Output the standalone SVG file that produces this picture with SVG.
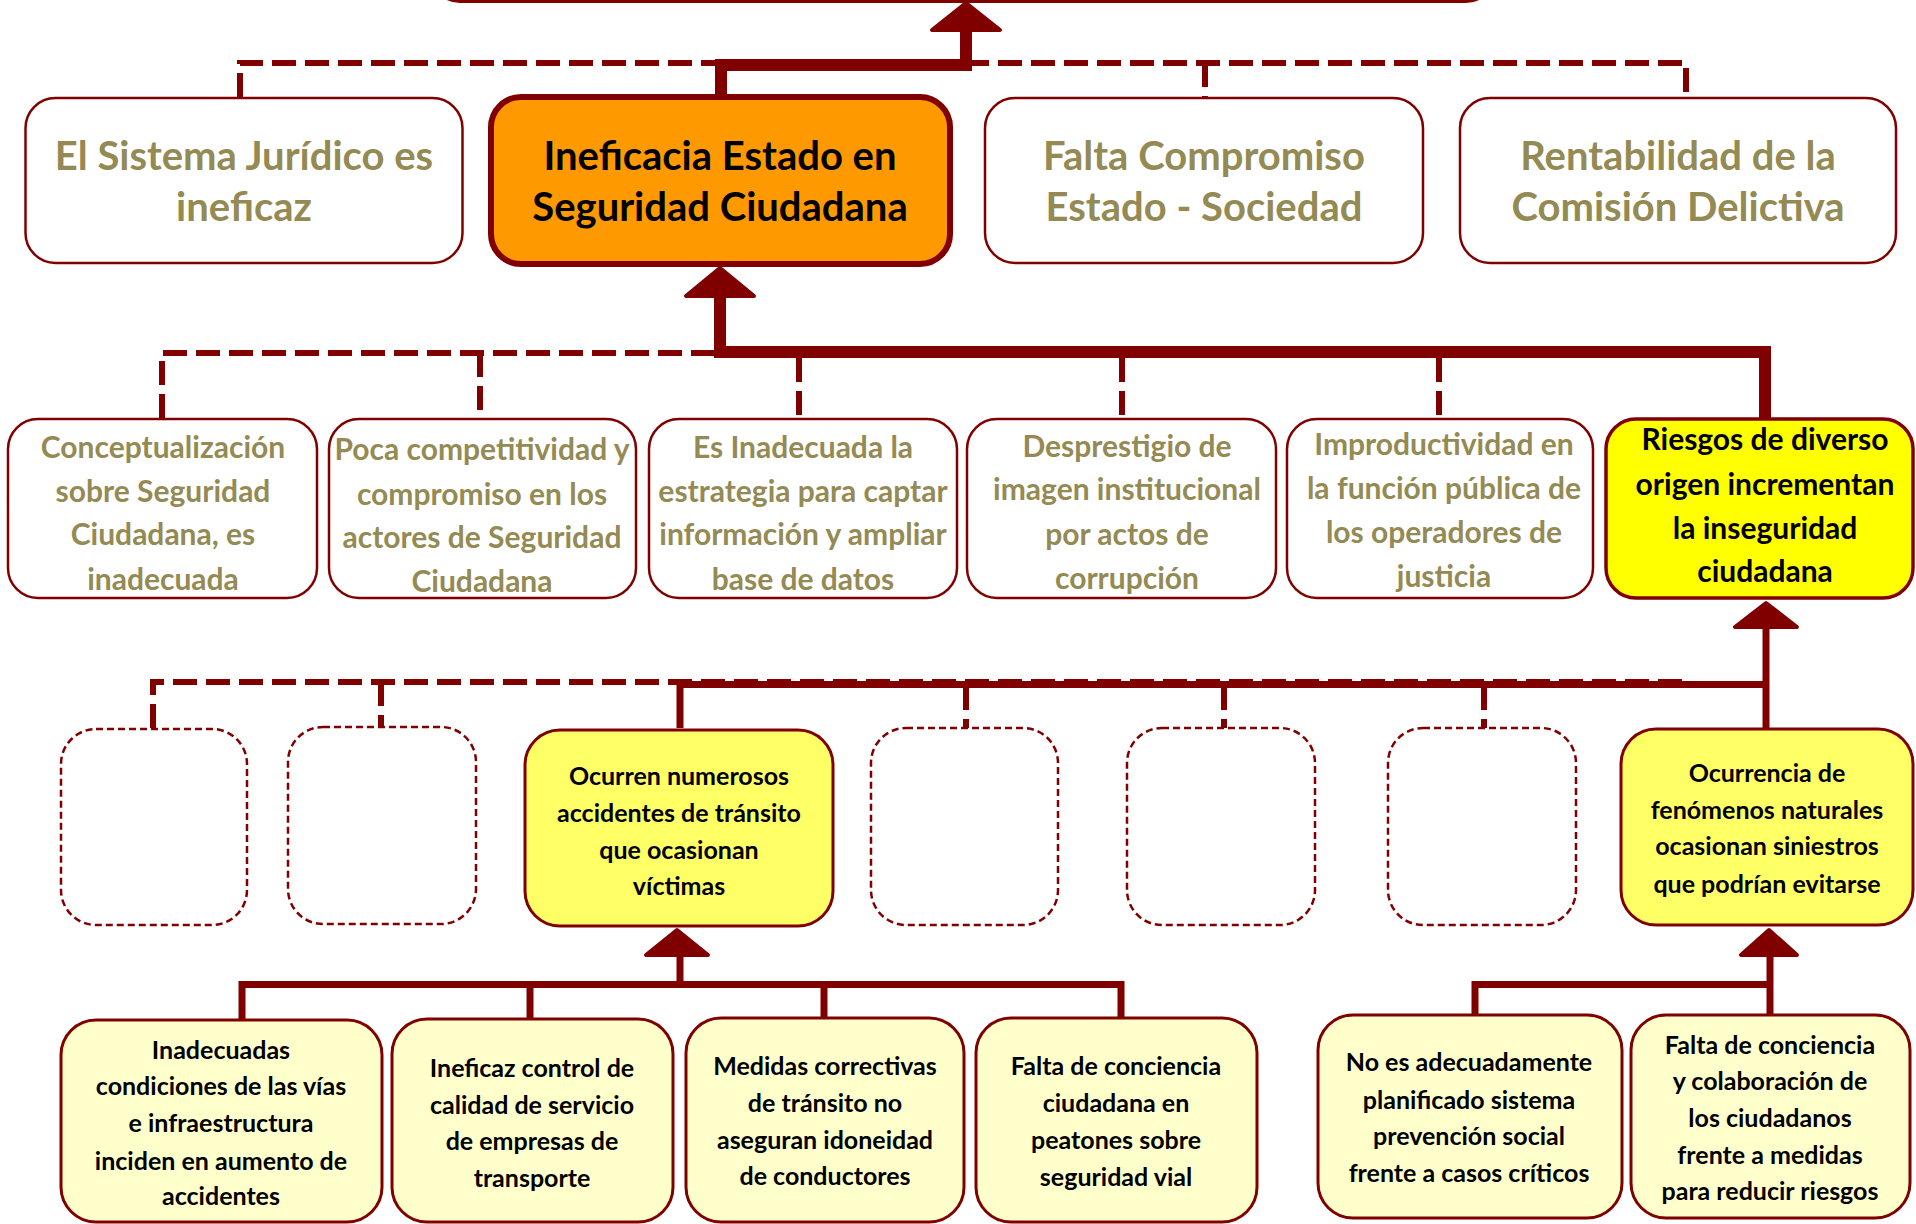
<svg xmlns="http://www.w3.org/2000/svg" width="1916" height="1224" viewBox="0 0 1916 1224">
<style>
text{font-family:Lato,"Liberation Sans",sans-serif;font-weight:bold;text-anchor:middle;transform:translateY(1.5px)}
.t1{font-size:40px}
.t2{font-size:30px}
.t3{font-size:25px}
.ol{fill:#948A54}
.bk{fill:#000}
.box{fill:#fff;stroke:#800000;stroke-width:2.5}
.main{fill:#FF9900;stroke:#800000;stroke-width:6}
.yel{fill:#FFFF00;stroke:#800000;stroke-width:3.5}
.ly{fill:#FFFF66;stroke:#800000;stroke-width:3}
.pale{fill:#FFFFCC;stroke:#800000;stroke-width:3}
.dbox{fill:#fff;stroke:#800000;stroke-width:2.5;stroke-dasharray:7 4}
.dash{fill:none;stroke:#800000;stroke-width:6;stroke-dasharray:24 9}
.thick{fill:none;stroke:#800000;stroke-width:12}
.med{fill:none;stroke:#800000;stroke-width:7}
.arr{fill:#800000;stroke:#800000;stroke-width:4;stroke-linejoin:round}
</style>
<rect width="1916" height="1224" fill="#fff"/>
<g id="connectors">
<path class="dash" d="M240 97V63H1686V97"/>
<path class="dash" d="M1205 63V97"/>
<path class="thick" d="M721 97V65H966V30"/>
<polygon class="arr" points="966,3 932,30 1000,30"/>
<path class="dash" d="M162 418V353H720"/>
<path class="dash" d="M480 353V418"/>
<path class="dash" d="M799 358V418"/>
<path class="dash" d="M1122 358V418"/>
<path class="dash" d="M1439 358V418"/>
<path class="thick" d="M720 296V352H1765V418"/>
<polygon class="arr" points="720,268 686,296 754,296"/>
<path class="dash" d="M153 728V682H1686"/>
<path class="dash" d="M381 682V728"/>
<path class="dash" d="M966 686V728"/>
<path class="dash" d="M1224 686V728"/>
<path class="dash" d="M1484 686V728"/>
<path class="med" d="M680 728V684.5H1766"/>
<path class="med" d="M1766 627V728"/>
<polygon class="arr" points="1766,603 1735,627 1797,627"/>
<path class="med" d="M242 1019V984.5H1121V1018"/>
<path class="med" d="M530 984V1019"/>
<path class="med" d="M824 984V1018"/>
<path class="med" d="M680 955V984"/>
<polygon class="arr" points="677,930 646,955 708,955"/>
<path class="med" d="M1475 1015V984.5H1770"/>
<path class="med" d="M1770 955V1015"/>
<polygon class="arr" points="1769,930 1741,955 1797,955"/>
</g>
<g id="top-partial"><rect x="432" y="-80" width="1062" height="81" rx="28" fill="#fff" stroke="#800000" stroke-width="4"/></g>
<g id="n-sistema"><rect class="box" x="25.5" y="98" width="437" height="165" rx="30"/>
<text class="t1 ol" x="244" y="168">El Sistema Jurídico es</text><text class="t1 ol" x="244" y="219">ineficaz</text></g>
<g id="n-ineficacia"><rect class="main" x="491" y="97" width="459" height="167" rx="30"/>
<text class="t1 bk" x="720" y="168">Ineficacia Estado en</text><text class="t1 bk" x="720" y="219">Seguridad Ciudadana</text></g>
<g id="n-compromiso"><rect class="box" x="985" y="98" width="438" height="165" rx="30"/>
<text class="t1 ol" x="1204" y="168">Falta Compromiso</text><text class="t1 ol" x="1204" y="219">Estado - Sociedad</text></g>
<g id="n-rentabilidad"><rect class="box" x="1460" y="98" width="436" height="165" rx="30"/>
<text class="t1 ol" x="1678" y="168">Rentabilidad de la</text><text class="t1 ol" x="1678" y="219">Comisión Delictiva</text></g>

<g id="n-concept"><rect class="box" x="8" y="419" width="309" height="179" rx="30"/>
<text class="t2 ol" x="163" y="456">Conceptualización</text><text class="t2 ol" x="163" y="500">sobre Seguridad</text><text class="t2 ol" x="163" y="543">Ciudadana, es</text><text class="t2 ol" x="163" y="588">inadecuada</text></g>
<g id="n-poca"><rect class="box" x="329" y="419" width="307" height="179" rx="30"/>
<text class="t2 ol" x="482" y="458">Poca competitividad y</text><text class="t2 ol" x="482" y="503">compromiso en los</text><text class="t2 ol" x="482" y="546">actores de Seguridad</text><text class="t2 ol" x="482" y="590">Ciudadana</text></g>
<g id="n-estrategia"><rect class="box" x="649" y="419" width="308" height="179" rx="30"/>
<text class="t2 ol" x="803" y="456">Es Inadecuada la</text><text class="t2 ol" x="803" y="500">estrategia para captar</text><text class="t2 ol" x="803" y="543">información y ampliar</text><text class="t2 ol" x="803" y="588">base de datos</text></g>
<g id="n-desprestigio"><rect class="box" x="967" y="419" width="309" height="179" rx="30"/>
<text class="t2 ol" x="1127" y="455">Desprestigio de</text><text class="t2 ol" x="1127" y="498">imagen institucional</text><text class="t2 ol" x="1127" y="543">por actos de</text><text class="t2 ol" x="1127" y="587">corrupción</text></g>
<g id="n-improductividad"><rect class="box" x="1287" y="419" width="306" height="179" rx="30"/>
<text class="t2 ol" x="1444" y="453">Improductividad en</text><text class="t2 ol" x="1444" y="497">la función pública de</text><text class="t2 ol" x="1444" y="541">los operadores de</text><text class="t2 ol" x="1444" y="585">justicia</text></g>
<g id="n-riesgos"><rect class="yel" x="1606" y="419" width="307" height="179" rx="30"/>
<text class="t2 bk" x="1765" y="448">Riesgos de diverso</text><text class="t2 bk" x="1765" y="493">origen incrementan</text><text class="t2 bk" x="1765" y="537">la inseguridad</text><text class="t2 bk" x="1765" y="580">ciudadana</text></g>

<g id="n-empty1"><rect class="dbox" x="61" y="729" width="186" height="196" rx="35"/></g>
<g id="n-empty2"><rect class="dbox" x="288" y="727" width="188" height="197" rx="35"/></g>
<g id="n-accidentes"><rect class="ly" x="525" y="730" width="308" height="196" rx="35"/>
<text class="t3 bk" x="679" y="783">Ocurren numerosos</text><text class="t3 bk" x="679" y="820">accidentes de tránsito</text><text class="t3 bk" x="679" y="857">que ocasionan</text><text class="t3 bk" x="679" y="893">víctimas</text></g>
<g id="n-empty3"><rect class="dbox" x="871" y="728" width="187" height="197" rx="35"/></g>
<g id="n-empty4"><rect class="dbox" x="1127" y="728" width="188" height="197" rx="35"/></g>
<g id="n-empty5"><rect class="dbox" x="1388" y="728" width="188" height="197" rx="35"/></g>
<g id="n-fenomenos"><rect class="ly" x="1621" y="729" width="292" height="196" rx="35"/>
<text class="t3 bk" x="1767" y="780">Ocurrencia de</text><text class="t3 bk" x="1767" y="817">fenómenos naturales</text><text class="t3 bk" x="1767" y="853">ocasionan siniestros</text><text class="t3 bk" x="1767" y="891">que podrían evitarse</text></g>

<g id="n-vias"><rect class="pale" x="61" y="1020" width="321" height="202" rx="35"/>
<text class="t3 bk" x="221" y="1057">Inadecuadas</text><text class="t3 bk" x="221" y="1093">condiciones de las vías</text><text class="t3 bk" x="221" y="1130">e infraestructura</text><text class="t3 bk" x="221" y="1168">inciden en aumento de</text><text class="t3 bk" x="221" y="1203">accidentes</text></g>
<g id="n-control"><rect class="pale" x="392" y="1019" width="281" height="203" rx="35"/>
<text class="t3 bk" x="532" y="1075">Ineficaz control de</text><text class="t3 bk" x="532" y="1112">calidad de servicio</text><text class="t3 bk" x="532" y="1148">de empresas de</text><text class="t3 bk" x="532" y="1185">transporte</text></g>
<g id="n-medidas"><rect class="pale" x="686" y="1018" width="278" height="204" rx="35"/>
<text class="t3 bk" x="825" y="1073">Medidas correctivas</text><text class="t3 bk" x="825" y="1110">de tránsito no</text><text class="t3 bk" x="825" y="1147">aseguran idoneidad</text><text class="t3 bk" x="825" y="1183">de conductores</text></g>
<g id="n-peatones"><rect class="pale" x="976" y="1018" width="281" height="204" rx="35"/>
<text class="t3 bk" x="1116" y="1073">Falta de conciencia</text><text class="t3 bk" x="1116" y="1110">ciudadana en</text><text class="t3 bk" x="1116" y="1147">peatones sobre</text><text class="t3 bk" x="1116" y="1184">seguridad vial</text></g>
<g id="n-prevencion"><rect class="pale" x="1318" y="1015" width="304" height="203" rx="35"/>
<text class="t3 bk" x="1469" y="1069">No es adecuadamente</text><text class="t3 bk" x="1469" y="1107">planificado sistema</text><text class="t3 bk" x="1469" y="1143">prevención social</text><text class="t3 bk" x="1469" y="1180">frente a casos críticos</text></g>
<g id="n-colaboracion"><rect class="pale" x="1631" y="1015" width="279" height="203" rx="35"/>
<text class="t3 bk" x="1770" y="1052">Falta de conciencia</text><text class="t3 bk" x="1770" y="1088">y colaboración de</text><text class="t3 bk" x="1770" y="1125">los ciudadanos</text><text class="t3 bk" x="1770" y="1162">frente a medidas</text><text class="t3 bk" x="1770" y="1198">para reducir riesgos</text></g>
</svg>
